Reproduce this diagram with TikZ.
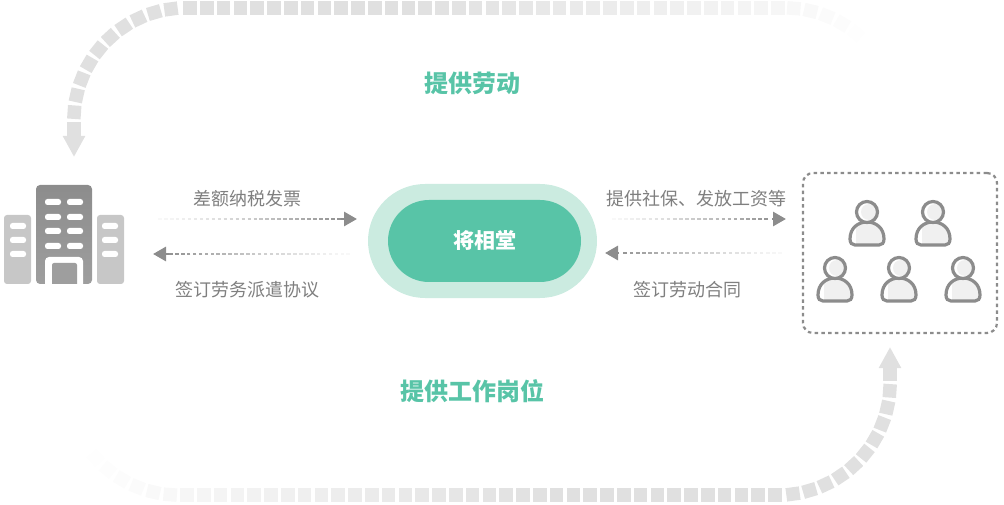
\documentclass[tikz,border=0pt]{standalone}
\usepackage{fontspec}
\setmainfont{Noto Sans CJK SC}
\usetikzlibrary{arrows.meta,calc}
\definecolor{bandgray}{HTML}{E0E0E0}
\definecolor{linegray}{HTML}{8C8C8C}
\definecolor{textgray}{HTML}{7F7F7F}
\definecolor{hubgreen}{HTML}{58C4A7}
\definecolor{hubpale}{HTML}{CBEBE0}
\tikzset{
  flowlabel/.style={text=textgray,font=\fontsize{18}{18}\selectfont,inner sep=0pt},
  titlelabel/.style={text=hubgreen,font=\fontsize{24}{24}\selectfont\bfseries,inner sep=0pt},
  bandhead/.style={bandgray,line width=13.5pt,-{Triangle[length=21pt,width=21pt]}},
  person/.pic={
    \begin{scope}
      \clip (-17,-27) .. controls (-17,-16) and (-9,-10) .. (0,-10)
        .. controls (9,-10) and (17,-16) .. (17,-27)
        .. controls (17,-31) and (15,-33) .. (12,-33) -- (-12,-33)
        .. controls (-15,-33) and (-17,-31) .. (-17,-27);
      \fill[white] (-20,-40) rectangle (20,-5);
      \fill[black!6] (-11,-40) rectangle (20,-5);
    \end{scope}
    \draw[linegray,line width=3.2pt] (-17,-27) .. controls (-17,-16) and (-9,-10) .. (0,-10)
      .. controls (9,-10) and (17,-16) .. (17,-27)
      .. controls (17,-31) and (15,-33) .. (12,-33) -- (-12,-33)
      .. controls (-15,-33) and (-17,-31) .. (-17,-27) -- cycle;
    \fill[white] (0,0) circle (10.5);
    \fill[black!6] (2,0) circle (8);
    \draw[linegray,line width=3.2pt] (0,0) circle (10.5);
  }
}
% faded dotted arrow between two named coordinates
\newcommand{\dotarrow}[3]{
  \foreach \t in {0,#3,...,0.9}
    {\pgfmathsetmacro{\p}{4+96*pow(\t+0.05,1.25)}
     \draw[linegray!\p!white,line width=2.8pt]
       ($(#1)!\t!(#2)$) -- ($(#1)!\t+0.6*#3!(#2)$);};
  \draw[linegray,line width=2.8pt,-{Triangle[length=13pt,width=14pt]}]
    ($(#1)!0.92!(#2)$) -- (#2);
}
\begin{document}
\begin{tikzpicture}[x=1pt,y=1pt]
\useasboundingbox (0,0) rectangle (1004,504);
% upper band
\foreach \a in {176,167.3,...,97}
  \fill[bandgray,shift={(186,384)},rotate=\a] (105.25,-6.75) rectangle (118.75,6.75);
\foreach \x in {0,...,35}
  {\pgfmathsetmacro{\p}{min(100,55-(190+16.8*\x-645)*0.195)}
   \fill[bandgray!\p!white] (190+16.8*\x-6.75,489.25) rectangle +(13.5,13.5);};
\foreach \a/\p in {85.5/24,76.8/18,68.1/13,59.4/8,50.7/4}
  \fill[bandgray!\p!white,shift={(785,384)},rotate=\a] (105.25,-6.75) rectangle (118.75,6.75);
\coordinate (upstem) at (74,382);
\coordinate (uptip) at (74,347);
\draw[bandhead] (upstem) -- (uptip);
% lower band
\foreach \a in {-4,-12.7,...,-83}
  \fill[bandgray,shift={(778,121)},rotate=\a] (105.25,-6.75) rectangle (118.75,6.75);
\foreach \x in {0,...,35}
  {\pgfmathsetmacro{\p}{min(100,29+16.8*\x*0.195)}
   \fill[bandgray!\p!white] (187+16.8*\x-6.75,2.25) rectangle +(13.5,13.5);};
\foreach \a/\p in {265.5/24,256.8/18,248.1/13,239.4/8,230.7/5,222/2}
  \fill[bandgray!\p!white,shift={(179,121)},rotate=\a] (105.25,-6.75) rectangle (118.75,6.75);
\coordinate (lowstem) at (890,123);
\coordinate (lowtip) at (890,157);
\draw[bandhead] (lowstem) -- (lowtip);
% buildings
\fill[black!22,rounded corners=3] (4,220) rectangle (31,289);
\fill[black!22,rounded corners=3] (97,220) rectangle (124,289);
\shade[top color=black!45,bottom color=black!38,rounded corners=4] (36,220) rectangle (92,319);
\foreach \x in {10,102}
  \foreach \y in {278,264,250}
    \fill[white,rounded corners=2.5] (\x,\y-3) rectangle +(16,6);
\foreach \x in {45,67}
  \foreach \y in {302,287,273,258}
    \fill[white,rounded corners=2.5] (\x,\y-3) rectangle +(16,6);
\fill[white] (45,220) [rounded corners=4] -- (45,247) -- (83,247) [sharp corners] -- (83,220) -- cycle;
\fill[black!38] (52,220) [rounded corners=2] -- (52,241) -- (77,241) [sharp corners] -- (77,220) -- cycle;
% centre
\node[fill=hubpale,minimum width=229pt,minimum height=114pt,rounded corners=57pt,inner sep=0pt] (hubring) at (482.5,263) {};
\node[fill=hubgreen,minimum width=193pt,minimum height=82pt,rounded corners=41pt,inner sep=0pt,
  text=white,font=\fontsize{21}{21}\selectfont\bfseries] (hub) at (484.5,263) {\raisebox{-1.5pt}{将相堂}};
% workers
\node[draw=linegray,line width=2.2pt,dash pattern=on 3.5pt off 3.3pt,rounded corners=10pt,
  minimum width=194pt,minimum height=160pt,inner sep=0pt] (workers) at (900,251) {};
\foreach \x/\y in {867/292,933/292,835/236,899/236,963/236}
  \pic at (\x,\y) {person};
% arrows
\coordinate (payfrom) at (158,285);
\coordinate (payto) at (357,285);
\coordinate (signfrom) at (350,250);
\coordinate (signto) at (153,250);
\coordinate (wagefrom) at (612,285);
\coordinate (wageto) at (786,285);
\coordinate (hirefrom) at (782,251);
\coordinate (hireto) at (605,251);
\dotarrow{payfrom}{payto}{0.03}
\dotarrow{signfrom}{signto}{0.03}
\dotarrow{wagefrom}{wageto}{0.035}
\dotarrow{hirefrom}{hireto}{0.035}
% labels
\node[titlelabel] (worktitle) at (472,421) {提供劳动};
\node[titlelabel] (jobtitle) at (472,113) {提供工作岗位};
\node[flowlabel] (paylabel) at (247,305) {差额纳税发票};
\node[flowlabel] (signlabel) at (247,214) {签订劳务派遣协议};
\node[flowlabel] (wagelabel) at (696,305) {提供社保、发放工资等};
\node[flowlabel] (hirelabel) at (687,214) {签订劳动合同};
\end{tikzpicture}
\end{document}
